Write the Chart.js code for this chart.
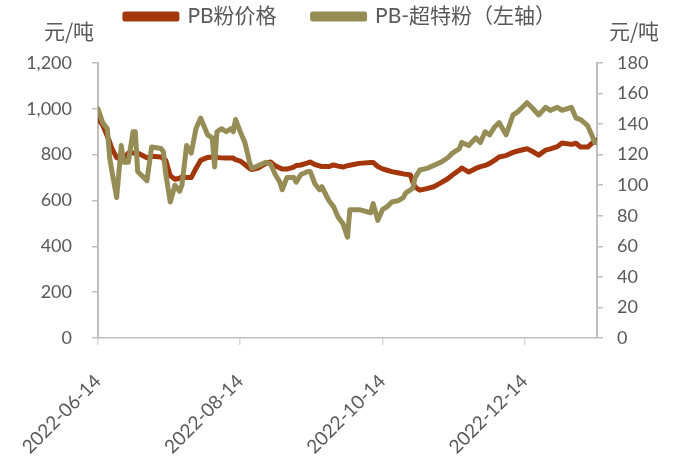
<!DOCTYPE html>
<html>
<head>
<meta charset="utf-8">
<script src="https://cdn.jsdelivr.net/npm/chart.js@4"></script>
<style>
  html, body { margin: 0; padding: 0; background: #fff; }
  #wrap { width: 681px; height: 459px; }
</style>
</head>
<body>
<div id="wrap"><canvas id="myChart"></canvas></div>
<script>
const dates = [
  "2022-06-14", "2022-06-16", "2022-06-18", "2022-06-19", "2022-06-20", "2022-06-22",
  "2022-06-24", "2022-06-25", "2022-06-27", "2022-06-29", "2022-06-30", "2022-07-01",
  "2022-07-05", "2022-07-07", "2022-07-11", "2022-07-12", "2022-07-13", "2022-07-15",
  "2022-07-17", "2022-07-19", "2022-07-20", "2022-07-22", "2022-07-24", "2022-07-26",
  "2022-07-28", "2022-07-31", "2022-08-02", "2022-08-03", "2022-08-04", "2022-08-06",
  "2022-08-08", "2022-08-10", "2022-08-11", "2022-08-12", "2022-08-14", "2022-08-16",
  "2022-08-18", "2022-08-19", "2022-08-22", "2022-08-25", "2022-08-27", "2022-08-29",
  "2022-08-31", "2022-09-01", "2022-09-03", "2022-09-06", "2022-09-07", "2022-09-09",
  "2022-09-12", "2022-09-13", "2022-09-15", "2022-09-17", "2022-09-18", "2022-09-21",
  "2022-09-23", "2022-09-25", "2022-09-27", "2022-09-29", "2022-09-30", "2022-10-04",
  "2022-10-09", "2022-10-10", "2022-10-12", "2022-10-14", "2022-10-16", "2022-10-18",
  "2022-10-21", "2022-10-23", "2022-10-24", "2022-10-26", "2022-10-27", "2022-10-28",
  "2022-10-30", "2022-11-02", "2022-11-05", "2022-11-08", "2022-11-11", "2022-11-13",
  "2022-11-16", "2022-11-17", "2022-11-20", "2022-11-23", "2022-11-25", "2022-11-27",
  "2022-11-29", "2022-12-01", "2022-12-03", "2022-12-06", "2022-12-09", "2022-12-11",
  "2022-12-15", "2022-12-17", "2022-12-20", "2022-12-23", "2022-12-25", "2022-12-28",
  "2022-12-30", "2023-01-03", "2023-01-05", "2023-01-07", "2023-01-10", "2023-01-12",
  "2023-01-13", "2023-01-14"
];

// PB粉价格 (left axis, 元/吨)
const pbPrice = [
  955, 930, 880, 855, 826, 787,
  780, 783, 807, 807, 807, 807,
  787, 793, 790, 782, 777, 708,
  693, 697, 703, 700, 700, 740,
  775, 788, 790, 789, 788, 786,
  785, 785, 785, 778, 772, 757,
  740, 735, 743, 762, 768, 752,
  742, 737, 737, 746, 753, 755,
  764, 768, 757, 751, 748, 748,
  755, 750, 746, 752, 754, 762,
  766, 766, 748, 738, 732, 726,
  720, 716, 715, 711, 680, 659,
  645, 652, 660, 677, 695, 711,
  733, 742, 724, 740, 748, 753,
  762, 775, 790, 796, 810, 816,
  826, 816, 798, 820, 825, 835,
  851, 845, 850, 833, 833, 851,
  858, 864
];

// PB-超特粉 (right axis, 元/吨)
const pbSpread = [
  150, 141, 137, 118, 109, 92,
  126, 115, 115, 135, 135, 109,
  103, 125, 124, 122, 108, 89,
  100, 96, 100, 126, 121, 137,
  144, 133, 131, 112, 135, 137,
  135, 137, 135, 143, 135, 128,
  115, 111, 113, 115, 114, 107,
  102, 97, 105, 105, 102, 107,
  109, 109, 101, 97, 99, 90,
  86, 79, 75, 66, 84, 84,
  82, 88, 77, 84, 86, 89,
  90, 92, 95, 97, 98, 105,
  110, 111, 113, 115, 118, 121,
  124, 128, 126, 131, 128, 135,
  133, 138, 141, 133, 146, 148,
  154, 151, 146, 151, 149, 151,
  149, 151, 144, 143, 139, 132,
  128, 128
];

const xTickDates = ["2022-06-14", "2022-08-14", "2022-10-14", "2022-12-14"];
const leftTicks = [0, 200, 400, 600, 800, 1000, 1200];
const rightTicks = [0, 20, 40, 60, 80, 100, 120, 140, 160, 180];

const DAY = 86400000;
const base = Date.parse(dates[0]);
const toDay = (d) => Math.round((Date.parse(d) - base) / DAY);
const fromDay = (n) => new Date(base + n * DAY).toISOString().slice(0, 10);

const FONT = "Lato, 'Noto Sans CJK SC', sans-serif";
const GREY = "#595959";
const AXIS = "#bfbfbf";

// unit labels above both y axes
const unitTitles = {
  id: "unitTitles",
  afterDraw(chart) {
    const { ctx, chartArea } = chart;
    ctx.save();
    ctx.fillStyle = GREY;
    ctx.font = "21px 'Noto Sans CJK SC', sans-serif";
    ctx.textAlign = "center";
    ctx.textBaseline = "middle";
    ctx.fillText("元/吨", chartArea.left - 29, 31);
    ctx.fillText("元/吨", chartArea.right + 37, 31);
    ctx.restore();
  },
};

// fixed legend block height so the plot starts where the reference does
const legendHeight = {
  id: "legendHeight",
  beforeInit(chart) {
    const fit = chart.legend.fit;
    chart.legend.fit = function () {
      fit.bind(chart.legend)();
      this.height = 93;
    };
  },
};

const ctx = document.getElementById("myChart");

new Chart(ctx, {
  type: "line",
  data: {
    datasets: [
      {
        label: "PB粉价格",
        data: dates.map((d, i) => ({ x: toDay(d), y: pbPrice[i] })),
        borderColor: "#a3360a",
        backgroundColor: "#a3360a",
        borderWidth: 5,
        yAxisID: "y",
        order: 2,
      },
      {
        label: "PB-超特粉（左轴）",
        data: dates.map((d, i) => ({ x: toDay(d), y: pbSpread[i] })),
        borderColor: "#968c55",
        backgroundColor: "#968c55",
        borderWidth: 5,
        yAxisID: "y1",
        order: 1,
      },
    ],
  },
  options: {
    responsive: true,
    maintainAspectRatio: false,
    animation: false,
    layout: { padding: { top: -30, left: 0, right: 0, bottom: 0 } },
    elements: {
      point: { radius: 0 },
      line: { tension: 0, borderJoinStyle: "round", borderCapStyle: "round" },
    },
    plugins: {
      tooltip: { enabled: false },
      legend: {
        position: "top",
        labels: {
          boxWidth: 52,
          boxHeight: 5,
          padding: 36,
          color: GREY,
          font: { family: FONT, size: 21 },
          sort: (a, b) => a.datasetIndex - b.datasetIndex,
        },
      },
    },
    scales: {
      x: {
        type: "linear",
        min: 0,
        max: toDay(dates[dates.length - 1]),
        afterBuildTicks: (s) => {
          s.ticks = xTickDates.map((d) => ({ value: toDay(d) }));
        },
        afterFit: (s) => {
          s.height = 121;
        },
        ticks: {
          maxRotation: 45,
          minRotation: 45,
          padding: 25,
          color: GREY,
          font: { family: FONT, size: 19 },
          callback: (v) => fromDay(v),
        },
        grid: { drawOnChartArea: false, tickLength: 7, color: "#d9d9d9", lineWidth: 1.5 },
        border: { color: AXIS, width: 1.5 },
      },
      y: {
        position: "left",
        min: 0,
        max: 1200,
        afterBuildTicks: (s) => {
          s.ticks = leftTicks.map((v) => ({ value: v }));
        },
        afterFit: (s) => {
          s.width = 98;
        },
        ticks: {
          padding: 20,
          color: GREY,
          font: { family: FONT, size: 18 },
          callback: (v) => v.toLocaleString("en-US"),
        },
        grid: { drawOnChartArea: false, tickLength: 6, color: AXIS, lineWidth: 1.5 },
        border: { color: AXIS, width: 2 },
      },
      y1: {
        position: "right",
        min: 0,
        max: 180,
        afterBuildTicks: (s) => {
          s.ticks = rightTicks.map((v) => ({ value: v }));
        },
        afterFit: (s) => {
          s.width = 84;
        },
        ticks: {
          padding: 14,
          color: GREY,
          font: { family: FONT, size: 18 },
        },
        grid: { drawOnChartArea: false, tickLength: 6, color: AXIS, lineWidth: 1.5 },
        border: { color: AXIS, width: 2 },
      },
    },
  },
  plugins: [unitTitles, legendHeight],
});
</script>
</body>
</html>
